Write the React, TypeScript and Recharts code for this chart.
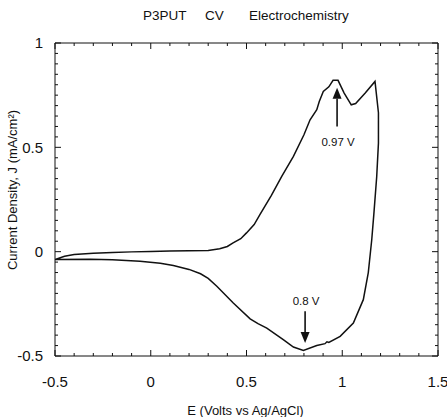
import React from 'react';
import { LineChart, Line, XAxis, YAxis, ReferenceLine } from 'recharts';

// Cyclic voltammogram: potential E (V) and current density J (mA/cm2), in scan order
const potential = [
  -0.5, -0.45, -0.4, -0.3, -0.2, -0.1, 0.0, 0.1, 0.2, 0.3, 0.36, 0.4, 0.43, 0.47, 0.5, 0.54, 0.57,
  0.63, 0.684, 0.745, 0.8, 0.832, 0.867, 0.88, 0.901, 0.93, 0.952, 0.978, 1.01, 1.047, 1.07, 1.12,
  1.171, 1.189, 1.189, 1.18, 1.165, 1.154, 1.136, 1.11, 1.058, 0.989, 0.93, 0.92, 0.91, 0.867,
  0.797, 0.745, 0.692, 0.606, 0.56, 0.519, 0.431, 0.345, 0.3, 0.26, 0.2, 0.118, 0.05, -0.056, -0.2,
  -0.317, -0.5,
];
const currentDensity = [
  -0.038, -0.022, -0.014, -0.008, -0.004, -0.001, 0.001, 0.003, 0.004, 0.006, 0.014, 0.025, 0.042,
  0.062, 0.09, 0.13, 0.177, 0.27, 0.361, 0.457, 0.56, 0.632, 0.68, 0.72, 0.768, 0.79, 0.821, 0.821,
  0.76, 0.704, 0.71, 0.76, 0.816, 0.666, 0.52, 0.36, 0.18, 0.057, -0.1, -0.23, -0.342, -0.406,
  -0.435, -0.432, -0.441, -0.45, -0.473, -0.457, -0.422, -0.366, -0.345, -0.322, -0.246, -0.166,
  -0.128, -0.106, -0.085, -0.066, -0.055, -0.046, -0.039, -0.036, -0.038,
];

const xTicks = [-0.5, -0.4, -0.3, -0.2, -0.1, 0, 0.1, 0.2, 0.3, 0.4, 0.5, 0.6, 0.7, 0.8, 0.9, 1, 1.1, 1.2, 1.3, 1.4, 1.5];
const yTicks = [
  -0.5, -0.45, -0.4, -0.35, -0.3, -0.25, -0.2, -0.15, -0.1, -0.05, 0, 0.05, 0.1, 0.15, 0.2, 0.25,
  0.3, 0.35, 0.4, 0.45, 0.5, 0.55, 0.6, 0.65, 0.7, 0.75, 0.8, 0.85, 0.9, 0.95, 1,
];

// Peak annotations: arrow from J=from to J=to at potential x
const peakLabels = ['0.97 V', '0.8 V'];
const peakPotentials = [0.973, 0.806];
const arrowFrom = [0.6, -0.286];
const arrowTo = [0.785, -0.4375];

const titleParts = ['P3PUT', 'CV', 'Electrochemistry'];
const xTitle = 'E (Volts vs Ag/AgCl)';
const yTitle = 'Current Density, J (mA/cm\u00B2)';

const data = potential.map((e, i) => ({ e, j: currentDensity[i] }));

const FONT = '"Liberation Sans", Arial, Helvetica, sans-serif';
const isMajor = (v: number) => Math.abs(v * 2 - Math.round(v * 2)) < 1e-9;
const fmt = (v: number) => String(Number(v.toFixed(2)));

const makeXTick = (side: 'bottom' | 'top') => (props: any) => {
  const { x, y, payload } = props;
  const v = payload.value as number;
  const major = isMajor(v);
  const len = major ? 6 : 3;
  const dir = side === 'bottom' ? -1 : 1;
  return (
    <g>
      <line x1={x} y1={y} x2={x} y2={y + dir * len} stroke="#111" strokeWidth={1} />
      {side === 'bottom' && major && (
        <text x={x} y={y + 31} textAnchor="middle" fontSize={15} fontFamily={FONT} fill="#111">
          {fmt(v)}
        </text>
      )}
    </g>
  );
};

const makeYTick = (side: 'left' | 'right') => (props: any) => {
  const { x, y, payload } = props;
  const v = payload.value as number;
  const major = isMajor(v);
  const len = major ? 6 : 3;
  const dir = side === 'left' ? 1 : -1;
  return (
    <g>
      <line x1={x} y1={y} x2={x + dir * len} y2={y} stroke="#111" strokeWidth={1} />
      {side === 'left' && major && (
        <text x={x - 12} y={y + 5.3} textAnchor="end" fontSize={15} fontFamily={FONT} fill="#111">
          {fmt(v)}
        </text>
      )}
    </g>
  );
};

const XTitle = (props: any) => {
  const vb = props.viewBox || {};
  return (
    <text x={vb.x + vb.width / 2 - 1} y={414.5} textAnchor="middle" fontSize={13} fontFamily={FONT} fill="#111">
      {xTitle}
    </text>
  );
};

const YTitle = (props: any) => {
  const cy = 190;
  const cx = 17;
  return (
    <text x={cx} y={cy} transform={`rotate(-90 ${cx} ${cy})`} textAnchor="middle" fontSize={13} fontFamily={FONT} fill="#111">
      {yTitle}
    </text>
  );
};

const titleX = [143, 205, 249];
const Title = (props: any) => {
  return (
    <g>
      {titleParts.map((t, i) => (
        <text key={t} x={titleX[i]} y={20} textAnchor="start" fontSize={13.5} fontFamily={FONT} fill="#111">
          {t}
        </text>
      ))}
    </g>
  );
};

const makeArrow = (label: string) => (props: any) => {
  const { x1, y1, x2, y2 } = props;
  const dir = y2 > y1 ? 1 : -1;
  const headLen = 11;
  const half = 4.5;
  const baseY = y2 - dir * headLen;
  const ty = dir < 0 ? y1 + 19.5 : y1 - 6;
  return (
    <g>
      <line x1={x1} y1={y1} x2={x2} y2={baseY} stroke="#111" strokeWidth={1.6} />
      <polygon points={`${x2},${y2} ${x2 - half},${baseY} ${x2 + half},${baseY}`} fill="#111" />
      <text x={x1 + 1} y={ty} textAnchor="middle" fontSize={11.5} fontFamily={FONT} fill="#111">
        {label}
      </text>
    </g>
  );
};

export default function App() {
  return (
    <div style={{ position: 'absolute', left: 0, top: 0, background: '#fff' }}>
      <LineChart width={447} height={417} data={data} margin={{ top: 33, right: 1, bottom: 21, left: 15 }}>
        <XAxis
          xAxisId="b"
          dataKey="e"
          type="number"
          domain={[-0.5, 1.5]}
          ticks={xTicks}
          interval={0}
          tickSize={0}
          tickMargin={0}
          tickLine={false}
          axisLine={{ stroke: '#111', strokeWidth: 1 }}
          tick={makeXTick('bottom')}
          height={40}
          allowDataOverflow
          label={<XTitle />}
        />
        <XAxis
          xAxisId="t"
          dataKey="e"
          type="number"
          orientation="top"
          domain={[-0.5, 1.5]}
          ticks={xTicks}
          interval={0}
          tickSize={0}
          tickMargin={0}
          tickLine={false}
          axisLine={{ stroke: '#111', strokeWidth: 1 }}
          tick={makeXTick('top')}
          height={10}
          allowDataOverflow
          label={<Title />}
        />
        <YAxis
          yAxisId="l"
          type="number"
          domain={[-0.5, 1]}
          ticks={yTicks}
          interval={0}
          tickSize={0}
          tickMargin={0}
          tickLine={false}
          axisLine={{ stroke: '#111', strokeWidth: 1 }}
          tick={makeYTick('left')}
          width={40}
          allowDataOverflow
          label={<YTitle />}
        />
        <YAxis
          yAxisId="r"
          orientation="right"
          type="number"
          domain={[-0.5, 1]}
          ticks={yTicks}
          interval={0}
          tickSize={0}
          tickMargin={0}
          tickLine={false}
          axisLine={{ stroke: '#111', strokeWidth: 1 }}
          tick={makeYTick('right')}
          width={8}
          allowDataOverflow
        />
        <Line
          xAxisId="b"
          yAxisId="l"
          type="linear"
          dataKey="j"
          stroke="#111"
          strokeWidth={1.5}
          dot={false}
          activeDot={false}
          isAnimationActive={false}
        />
        {peakLabels.map((lab, i) => (
          <ReferenceLine
            key={lab}
            xAxisId="b"
            yAxisId="l"
            segment={[
              { x: peakPotentials[i], y: arrowFrom[i] },
              { x: peakPotentials[i], y: arrowTo[i] },
            ]}
            stroke="#111"
            shape={makeArrow(lab)}
          />
        ))}
      </LineChart>
    </div>
  );
}
